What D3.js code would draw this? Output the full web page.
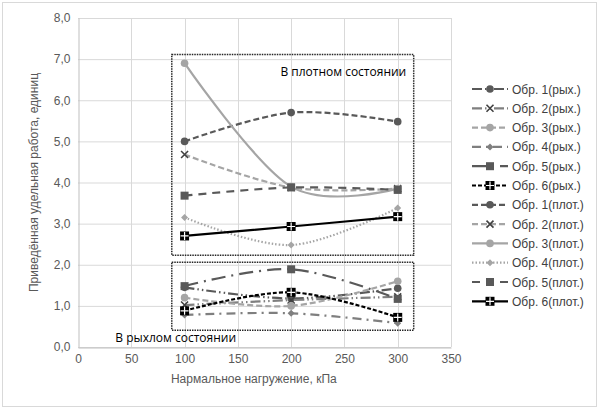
<!DOCTYPE html>
<html>
<head>
<meta charset="utf-8">
<script src="https://cdn.jsdelivr.net/npm/d3@7"></script>
<style>
  body { margin: 0; background: #fff; }
  svg text { font-family: "Liberation Sans", Arial, sans-serif; }
</style>
</head>
<body>
<div id="chart"></div>
<script>
// loads (kPa)
const loads = [100, 200, 300];
const xTicks = [0, 50, 100, 150, 200, 250, 300, 350];
const yTicks = [0, 1, 2, 3, 4, 5, 6, 7, 8];

const seriesNames = [
  "Обр. 1(рых.)", "Обр. 2(рых.)", "Обр. 3(рых.)", "Обр. 4(рых.)", "Обр. 5(рых.)", "Обр. 6(рых.)",
  "Обр. 1(плот.)", "Обр. 2(плот.)", "Обр. 3(плот.)", "Обр. 4(плот.)", "Обр. 5(плот.)", "Обр. 6(плот.)"
];

// loose state
const loose1 = [1.45, 1.18, 1.43];
const loose2 = [1.02, 1.14, 1.22];
const loose3 = [1.20, 1.00, 1.60];
const loose4 = [0.78, 0.82, 0.58];
const loose5 = [1.48, 1.89, 1.17];
const loose6 = [0.88, 1.33, 0.72];
// dense state
const dense1 = [5.00, 5.70, 5.48];
const dense2 = [4.68, 3.88, 3.85];
const dense3 = [6.90, 3.90, 3.85];
const dense4 = [3.15, 2.48, 3.38];
const dense5 = [3.68, 3.88, 3.82];
const dense6 = [2.70, 2.93, 3.17];

const seriesValues = [loose1, loose2, loose3, loose4, loose5, loose6,
                      dense1, dense2, dense3, dense4, dense5, dense6];

const denseLabel = "В плотном состоянии";
const looseLabel = "В рыхлом состоянии";

const styles = [
  { color: "#595959", dash: "10,3,1.5,3,1.5,3", marker: "circle" },
  { color: "#7f7f7f", dash: "10,3,1.5,3,1.5,3", marker: "x" },
  { color: "#a5a5a5", dash: "6,3", marker: "circle" },
  { color: "#7f7f7f", dash: "9,5,2,5", marker: "diamond" },
  { color: "#595959", dash: "14,6,2,6", marker: "square" },
  { color: "#000000", dash: "4,2", marker: "cross" },
  { color: "#595959", dash: "6,3", marker: "circle" },
  { color: "#a5a5a5", dash: "6,3", marker: "x" },
  { color: "#a5a5a5", dash: null, marker: "circle" },
  { color: "#a5a5a5", dash: "1.5,2", marker: "diamond" },
  { color: "#595959", dash: "8,6", marker: "square" },
  { color: "#000000", dash: null, marker: "cross" }
];

const W = 599, H = 409;
const margin = { left: 78, top: 18, right: 148, bottom: 62 };

const svg = d3.select("#chart").append("svg")
  .attr("width", W).attr("height", H);

svg.append("rect")
  .attr("x", 2.5).attr("y", 2.5).attr("width", W - 5).attr("height", H - 5)
  .attr("fill", "#fff").attr("stroke", "#d9d9d9");

const x = d3.scaleLinear().domain([0, 350]).range([margin.left, W - margin.right]);
const y = d3.scaleLinear().domain([0, 8]).range([H - margin.bottom, margin.top]);

// grid
svg.append("g").selectAll("line").data(yTicks).enter().append("line")
  .attr("x1", x(0)).attr("x2", x(350))
  .attr("y1", d => y(d) + 0.5).attr("y2", d => y(d) + 0.5)
  .attr("stroke", "#d9d9d9");
svg.append("g").selectAll("line").data(xTicks.slice(1)).enter().append("line")
  .attr("x1", d => Math.round(x(d)) + 0.5).attr("x2", d => Math.round(x(d)) + 0.5)
  .attr("y1", y(0)).attr("y2", y(8))
  .attr("stroke", "#d9d9d9");

// axes
const xAxis = svg.append("g")
  .attr("transform", `translate(0,${y(0) + 0.5})`)
  .call(d3.axisBottom(x).tickValues(xTicks).tickSize(0).tickPadding(7));
const yAxis = svg.append("g")
  .attr("transform", `translate(${x(0) + 0.5},0)`)
  .call(d3.axisLeft(y).tickValues(yTicks).tickSize(0).tickPadding(8)
    .tickFormat(d => d3.format(".1f")(d).replace(".", ",")));
[xAxis, yAxis].forEach(a => {
  a.select(".domain").attr("stroke", "#bfbfbf");
  a.selectAll("text").attr("fill", "#595959").style("font-size", "12px");
});

svg.append("text")
  .attr("x", x(165)).attr("y", 383)
  .attr("text-anchor", "middle").attr("fill", "#595959")
  .style("font-size", "12px")
  .text("Нармальное нагружение, кПа");
svg.append("text")
  .attr("transform", `translate(38,${y(4)}) rotate(-90)`)
  .attr("text-anchor", "middle").attr("fill", "#595959")
  .style("font-size", "12px")
  .text("Приведённая удельная работа, единиц");

// annotation boxes
const boxes = [
  { x0: 88, x1: 315, y0: 2.23, y1: 7.11 },
  { x0: 88, x1: 315, y0: 0.41, y1: 2.06 }
];
svg.append("g").selectAll("rect").data(boxes).enter().append("rect")
  .attr("x", d => x(d.x0)).attr("y", d => y(d.y1))
  .attr("width", d => x(d.x1) - x(d.x0)).attr("height", d => y(d.y0) - y(d.y1))
  .attr("fill", "none").attr("stroke", "#262626")
  .attr("stroke-width", 1.5).attr("stroke-dasharray", "1.5,1");

svg.append("text")
  .attr("x", x(308)).attr("y", y(6.6))
  .attr("text-anchor", "end").attr("fill", "#000")
  .style("font-family", "'Open Sans', sans-serif")
  .style("font-size", "12px").text(denseLabel);
svg.append("text")
  .attr("x", x(35)).attr("y", y(0.12))
  .attr("fill", "#000")
  .style("font-family", "'Open Sans', sans-serif")
  .style("font-size", "12px").text(looseLabel);

// markers
function drawMarker(g, type, color, cx, cy) {
  if (type === "circle") {
    g.append("circle").attr("cx", cx).attr("cy", cy).attr("r", 3.8).attr("fill", color);
  } else if (type === "square") {
    g.append("rect").attr("x", cx - 4).attr("y", cy - 4).attr("width", 8).attr("height", 8).attr("fill", color);
  } else if (type === "diamond") {
    g.append("path").attr("d", `M${cx},${cy - 3.5}L${cx + 3.5},${cy}L${cx},${cy + 3.5}L${cx - 3.5},${cy}Z`).attr("fill", color);
  } else if (type === "x") {
    g.append("path").attr("d", `M${cx - 3.5},${cy - 3.5}L${cx + 3.5},${cy + 3.5}M${cx + 3.5},${cy - 3.5}L${cx - 3.5},${cy + 3.5}`)
      .attr("stroke", "#404040").attr("stroke-width", 1.6);
  } else if (type === "cross") {
    g.append("rect").attr("x", cx - 4.5).attr("y", cy - 4.5).attr("width", 9).attr("height", 9).attr("fill", color);
    g.append("path").attr("d", `M${cx},${cy - 4}V${cy + 4}M${cx - 4},${cy}H${cx + 4}`)
      .attr("stroke", "#fff").attr("stroke-width", 1.2);
  }
}

const line = d3.line()
  .x((d, i) => x(loads[i]))
  .y(d => y(d))
  .curve(d3.curveCardinal.tension(0));

seriesValues.forEach((vals, si) => {
  const st = styles[si];
  const g = svg.append("g");
  g.append("path")
    .datum(vals)
    .attr("d", line)
    .attr("fill", "none")
    .attr("stroke", st.color)
    .attr("stroke-width", 2.2)
    .attr("stroke-dasharray", st.dash);
  vals.forEach((v, i) => drawMarker(g, st.marker, st.color, x(loads[i]), y(v)));
});

// legend
const legend = svg.append("g");
seriesNames.forEach((name, i) => {
  const st = styles[i];
  const ly = 89 + i * 19.3;
  const g = legend.append("g");
  g.append("line")
    .attr("x1", 472).attr("x2", 508).attr("y1", ly).attr("y2", ly)
    .attr("stroke", st.color).attr("stroke-width", 2.2)
    .attr("stroke-dasharray", st.dash);
  drawMarker(g, st.marker, st.color, 490, ly);
  g.append("text")
    .attr("x", 512).attr("y", ly + 4.5)
    .attr("fill", "#404040")
    .style("font-size", "12px")
    .text(name);
});
</script>
</body>
</html>
